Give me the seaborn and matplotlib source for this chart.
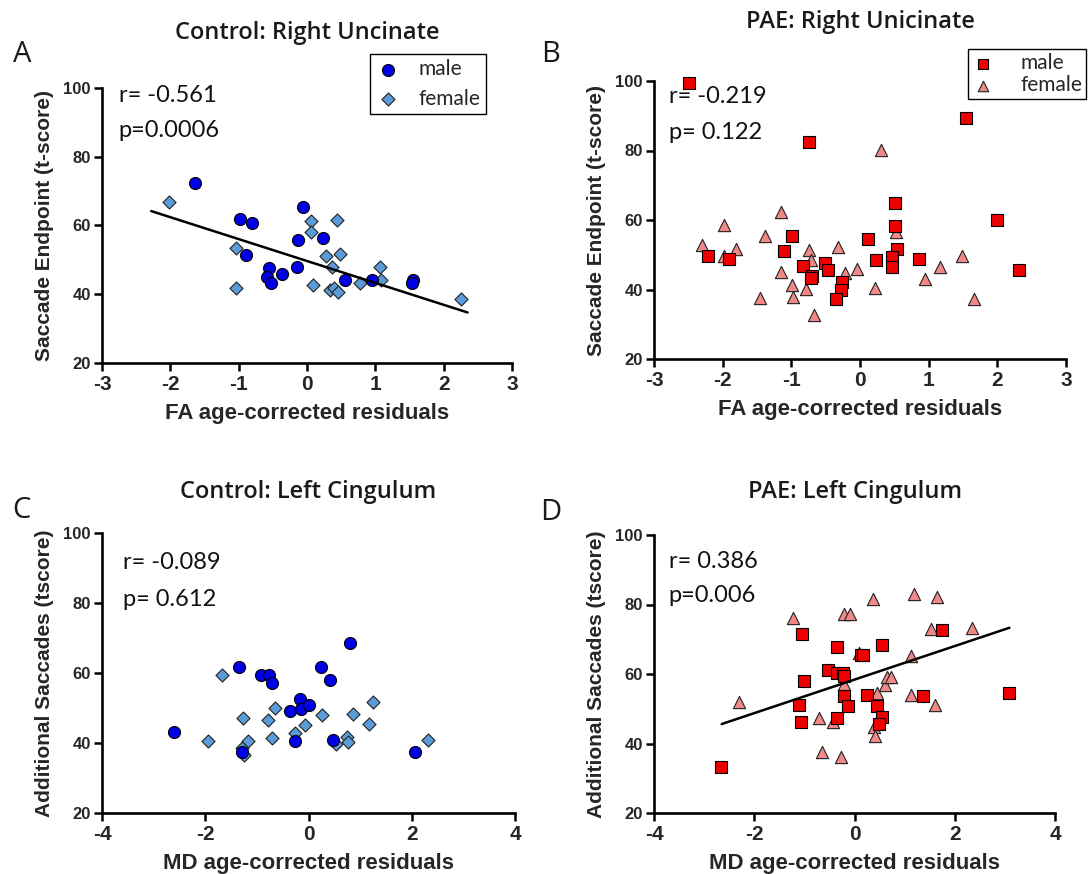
import numpy as np
import pandas as pd
import matplotlib
matplotlib.use("Agg")
import matplotlib.pyplot as plt
import seaborn as sns

# ---------------- data ----------------
# Panel A: Control, Right Uncinate (FA residuals vs Saccade Endpoint)
a_male_x = [-1.64, -0.98, -0.81, -0.90, -0.55, -0.59, -0.53, -0.36, -0.15, -0.13, -0.06, 0.23, 0.56, 0.95, 1.55, 1.53]
a_male_y = [72.3, 61.8, 60.8, 51.5, 47.6, 44.9, 43.4, 45.8, 47.9, 55.9, 65.3, 56.3, 44.0, 44.2, 44.2, 43.2]
a_female_x = [-2.02, -1.04, -1.04, 0.06, 0.06, 0.44, 0.28, 0.49, 0.37, 0.09, 0.34, 0.40, 0.45, 0.78, 1.07, 1.08, 2.25]
a_female_y = [66.8, 53.4, 41.7, 61.3, 58.2, 61.5, 51.1, 51.7, 48.0, 42.6, 41.2, 41.9, 40.6, 43.4, 47.9, 44.0, 38.6]
a_fit_x = [-2.28, 2.35]
a_fit_y = [64.2, 34.7]

# Panel B: PAE, Right Unicinate
b_male_x = [-2.49, -0.75, 1.54, -2.21, -1.91, -0.99, -1.11, -0.83, -0.70, -0.72, -0.51, -0.46, -0.26, -0.27, -0.35,
            0.11, 0.24, 0.51, 0.51, 0.54, 0.47, 0.47, 0.86, 1.99, 2.32]
b_male_y = [99.3, 82.4, 89.4, 49.6, 48.7, 55.4, 51.2, 46.8, 43.9, 43.3, 47.5, 45.6, 42.2, 39.9, 37.2,
            54.5, 48.4, 64.8, 58.4, 51.6, 49.3, 46.6, 48.8, 60.1, 45.6]
b_female_x = [-2.30, -1.98, -1.98, -1.81, -1.39, -1.45, -1.15, -1.15, -0.99, -0.98, -0.75, -0.71, -0.78, -0.67,
              -0.32, -0.22, -0.05, 0.22, 0.30, 0.52, 0.95, 1.17, 1.48, 1.66]
b_female_y = [52.8, 58.6, 49.6, 51.6, 55.5, 37.5, 62.2, 45.0, 41.4, 37.8, 51.3, 48.5, 40.2, 32.7,
              52.1, 44.7, 45.8, 40.3, 80.1, 56.6, 42.9, 46.6, 49.6, 37.4]

# Panel C: Control, Left Cingulum (MD residuals vs Additional Saccades)
c_male_x = [-2.60, -1.34, -1.28, -0.92, -0.77, -0.70, -0.36, -0.17, -0.14, 0.01, -0.27, 0.24, 0.42, 0.48, 0.81, 2.07]
c_male_y = [43.1, 61.6, 37.3, 59.4, 59.3, 57.1, 49.1, 52.6, 49.6, 50.9, 40.6, 61.8, 58.0, 40.9, 68.7, 37.3]
c_female_x = [-1.94, -1.67, -1.27, -1.18, -1.28, -1.25, -0.78, -0.65, -0.70, -0.27, -0.06, 0.27, 0.53, 0.74,
              0.76, 0.86, 1.18, 1.25, 2.31]
c_female_y = [40.7, 59.4, 47.2, 40.7, 38.5, 36.7, 46.6, 50.1, 41.5, 42.8, 45.2, 48.0, 39.7, 41.8,
              40.3, 48.2, 45.4, 51.8, 40.8]

# Panel D: PAE, Left Cingulum
d_male_x = [-2.66, -1.05, -1.00, -1.11, -1.07, -0.35, -0.52, -0.35, -0.22, -0.21, -0.21, -0.12, -0.35, 0.12, 0.17,
            0.25, 0.55, 0.44, 0.55, 0.48, 1.36, 1.75, 3.08]
d_male_y = [33.3, 71.4, 58.0, 51.0, 46.2, 67.8, 61.1, 60.3, 60.2, 59.5, 53.6, 50.7, 47.4, 65.4, 65.6,
            54.1, 68.3, 50.9, 47.7, 45.6, 53.6, 72.6, 54.4]
d_female_x = [-2.30, -1.22, -0.71, -0.65, -0.42, -0.27, -0.21, -0.09, -0.21, 0.08, 0.36, 0.44, 0.38, 0.41,
              0.61, 0.64, 0.73, 1.12, 1.13, 1.19, 1.53, 1.61, 1.65, 2.34]
d_female_y = [52.0, 76.0, 47.4, 37.6, 46.2, 36.1, 77.4, 77.4, 57.0, 65.9, 81.6, 54.4, 44.8, 42.2,
              56.8, 59.2, 59.0, 65.1, 54.1, 83.0, 72.9, 51.2, 82.2, 73.3]
d_fit_x = [-2.65, 3.09]
d_fit_y = [45.6, 73.3]

titles = ["Control: Right Uncinate", "PAE: Right Unicinate", "Control: Left Cingulum", "PAE: Left Cingulum"]
letters = ["A", "B", "C", "D"]
r_texts = ["r= -0.561", "r= -0.219", "r= -0.089", "r= 0.386"]
p_texts = ["p=0.0006", "p= 0.122", "p= 0.612", "p=0.006"]
xlabels = ["FA age-corrected residuals", "FA age-corrected residuals",
           "MD age-corrected residuals", "MD age-corrected residuals"]
ylabels = ["Saccade Endpoint (t-score)", "Saccade Endpoint (t-score)",
           "Additional Saccades (tscore)", "Additional Saccades (tscore)"]
fa_ticks = [-3, -2, -1, 0, 1, 2, 3]
md_ticks = [-4, -2, 0, 2, 4]
y_ticks = [20, 40, 60, 80, 100]
sex_labels = ["male", "female"]

# ---------------- style ----------------
sns.set_theme(style="ticks")
plt.rcParams["font.family"] = ["Liberation Sans", "DejaVu Sans"]

BLUE = "#0000e6"
LBLUE = "#5b9bd8"
RED = "#ee0000"
PINK = "#f08888"

W, H = 1089, 874
fig = plt.figure(figsize=(W / 100, H / 100), dpi=100)


def px_axes(left, right, top, bottom):
    return fig.add_axes([left / W, 1 - bottom / H, (right - left) / W, (bottom - top) / H])


axA = px_axes(102, 512, 88, 363)
axB = px_axes(654, 1066, 81, 359)
axC = px_axes(102, 515, 533, 813)
axD = px_axes(654, 1055, 535, 813)
axes = [axA, axB, axC, axD]

panels = [
    (a_male_x, a_male_y, a_female_x, a_female_y, "o", "D", BLUE, LBLUE, 75, 44, (a_fit_x, a_fit_y)),
    (b_male_x, b_male_y, b_female_x, b_female_y, "s", "^", RED, PINK, 70, 78, None),
    (c_male_x, c_male_y, c_female_x, c_female_y, "o", "D", BLUE, LBLUE, 75, 44, None),
    (d_male_x, d_male_y, d_female_x, d_female_y, "s", "^", RED, PINK, 70, 78, (d_fit_x, d_fit_y)),
]

leg_handles = []
for i, (ax, pan) in enumerate(zip(axes, panels)):
    mx, my, fx, fy, mm, fm, mc, fc, ms, fs, fit = pan
    male_df = pd.DataFrame({"x": mx, "y": my})
    female_df = pd.DataFrame({"x": fx, "y": fy})
    sns.scatterplot(data=female_df, x="x", y="y", marker=fm, color=fc, s=fs,
                    edgecolor="#222222", linewidth=0.8, ax=ax,
                    zorder=3, clip_on=False, legend=False)
    h_f = ax.collections[-1]
    sns.scatterplot(data=male_df, x="x", y="y", marker=mm, color=mc, s=ms,
                    edgecolor="black", linewidth=0.8, ax=ax,
                    zorder=3, clip_on=False, legend=False)
    h_m = ax.collections[-1]
    leg_handles.append((h_m, h_f))
    if fit is not None:
        sns.lineplot(x=fit[0], y=fit[1], color="black", linewidth=1.8, ax=ax, zorder=4, legend=False)

    ticks = fa_ticks if i < 2 else md_ticks
    ax.set_xlim(ticks[0], ticks[-1])
    ax.set_ylim(20, 100)
    ax.set_xticks(ticks)
    ax.set_yticks(y_ticks)
    ax.set_xticklabels([str(t) for t in ticks], fontsize=15, fontweight="bold")
    ax.set_yticklabels([str(t) for t in y_ticks], fontsize=12, fontweight="bold")
    ax.tick_params(axis="both", direction="out", length=6, width=1.8, color="black", pad=3)
    ax.tick_params(axis="y", pad=2)
    sns.despine(ax=ax)
    for sp in ["left", "bottom"]:
        ax.spines[sp].set_linewidth(1.9)
        ax.spines[sp].set_color("black")
    ax.set_xlabel(xlabels[i], fontsize=16, fontweight="bold", labelpad=6)
    ax.set_ylabel(ylabels[i], fontsize=15, fontweight="bold", labelpad=7)
    ax.set_facecolor("white")

# r / p annotations (axes fraction)
rp_pos = [(0.041, 0.974, 0.847), (0.036, 0.946, 0.813), (0.051, 0.893, 0.761), (0.037, 0.906, 0.781)]
for ax, (x0, yr, yp), rt, pt in zip(axes, rp_pos, r_texts, p_texts):
    ax.text(x0, yr, rt, transform=ax.transAxes, fontsize=17, family=["Lato", "DejaVu Sans"],
            va="center", ha="left", color="#111111", zorder=5)
    ax.text(x0, yp, pt, transform=ax.transAxes, fontsize=17, family=["Lato", "DejaVu Sans"],
            va="center", ha="left", color="#111111", zorder=5)

# legends
legA = axA.legend(list(leg_handles[0]), sex_labels,
                  loc="upper left", bbox_to_anchor=((370 - 102) / 410, (363 - 54) / 275),
                  frameon=True, fancybox=False, edgecolor="black", framealpha=1,
                  prop={"family": ["Lato", "DejaVu Sans"], "size": 15},
                  handlelength=1.2, handletextpad=0.9, borderpad=0.25, labelspacing=0.45,
                  borderaxespad=0)
legA.get_frame().set_linewidth(1.0)

legB = axB.legend(list(leg_handles[1]), sex_labels,
                  loc="upper left", bbox_to_anchor=((968 - 654) / 412, (359 - 49) / 278),
                  frameon=True, fancybox=False, edgecolor="black", framealpha=1,
                  prop={"family": ["Lato", "DejaVu Sans"], "size": 15},
                  handlelength=1.0, handletextpad=1.3, borderpad=0.2, labelspacing=0.1,
                  borderaxespad=0, markerscale=0.85)
legB.get_frame().set_linewidth(1.0)

# titles
title_pos = [(307, 33), (860, 22), (308, 492), (855, 492)]
for (tx, ty), t in zip(title_pos, titles):
    fig.text(tx / W, 1 - ty / H, t, ha="center", va="center", fontsize=17,
             family=["Open Sans", "DejaVu Sans"], fontweight="semibold", color="#1a1a1a")

# panel letters
letter_pos = [(22, 54), (551, 54), (21, 511), (551, 513)]
for (lx, ly), l in zip(letter_pos, letters):
    fig.text(lx / W, 1 - ly / H, l, ha="center", va="center", fontsize=21,
             family=["Open Sans", "DejaVu Sans"], color="#1a1a1a")

fig.savefig("out.png", dpi=100, facecolor="white")
